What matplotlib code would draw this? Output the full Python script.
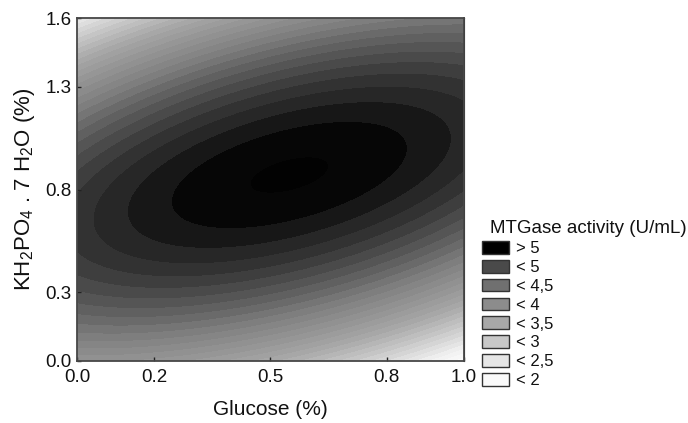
import numpy as np
import matplotlib
matplotlib.use('Agg')
import matplotlib.pyplot as plt
from matplotlib.colors import Normalize, LinearSegmentedColormap
from matplotlib.patches import Patch

plt.rcParams['font.family'] = ['Liberation Sans', 'DejaVu Sans']

# MTGase activity (U/mL) at a 3x3 grid of design points
glucose = [0.0, 0.5, 1.0]
kh2po4 = [0.0, 0.8, 1.6]
activity = [
    [3.47, 2.99, 1.53],   # KH2PO4 = 0.0
    [4.63, 5.14, 4.66],   # KH2PO4 = 0.8
    [1.96, 3.45, 3.95],   # KH2PO4 = 1.6
]

xtick_pos = [0.0, 0.2, 0.5, 0.8, 1.0]
xtick_lab = ['0.0', '0.2', '0.5', '0.8', '1.0']
ytick_pos = [0.0, 0.32, 0.8, 1.28, 1.6]
ytick_lab = ['0.0', '0.3', '0.8', '1.3', '1.6']

legend_labels = ['> 5', '< 5', '< 4,5', '< 4', '< 3,5', '< 3', '< 2,5', '< 2']
legend_colors = ['#000000', '#4a4a4a', '#707070', '#8c8c8c',
                 '#a8a8a8', '#c8c8c8', '#e6e6e6', '#fafafa']

# second order response surface through the points
gx, gy = np.meshgrid(glucose, kh2po4)
gx, gy, gz = gx.ravel(), gy.ravel(), np.array(activity).ravel()
A = np.column_stack([np.ones_like(gx), gx, gy, gx**2, gy**2, gx * gy])
coef = np.linalg.lstsq(A, gz, rcond=None)[0]

xs = np.linspace(0, 1, 400)
ys = np.linspace(0, 1.6, 400)
X, Y = np.meshgrid(xs, ys)
Z = (coef[0] + coef[1] * X + coef[2] * Y + coef[3] * X**2
     + coef[4] * Y**2 + coef[5] * X * Y)

# statistica-like grey ramp: steep near the optimum, flatter towards the edges
vmin, vmax = 1.55, 5.15
ramp_val = [1.55, 1.91, 2.51, 3.06, 3.52, 3.90, 4.12, 4.36, 4.60, 4.72, 4.84, 4.96, 5.08, 5.15]
ramp_grey = [252, 240, 200, 165, 145, 125, 106, 85, 62, 51, 39, 24, 6, 2]
ramp = LinearSegmentedColormap.from_list(
    'ramp', [((v - vmin) / (vmax - vmin), str(g / 255)) for v, g in zip(ramp_val, ramp_grey)])

levels = sorted(5.135 - 0.12 * np.arange(40))
levels = [l for l in levels if l > 0.5] + [Z.max() + 0.001]

fig = plt.figure(figsize=(6.88, 4.23), dpi=100)
ax = fig.add_axes([0.1119, 0.1466, 0.5625, 0.8108])
ax.contourf(X, Y, Z, levels=levels, cmap=ramp,
            norm=Normalize(vmin=vmin, vmax=vmax))

ax.set_xlim(0, 1)
ax.set_ylim(0, 1.6)
ax.set_xticks(xtick_pos)
ax.set_xticklabels(xtick_lab)
ax.set_yticks(ytick_pos)
ax.set_yticklabels(ytick_lab)
ax.tick_params(direction='in', length=3, width=1, colors='#222222',
               labelsize=13.5, labelcolor='#111111')
ax.tick_params(axis='x', pad=6)
ax.tick_params(axis='y', pad=4)
for s in ax.spines.values():
    s.set_color('#474747')
    s.set_linewidth(1.3)

top = ax.secondary_xaxis('top')
top.set_xticks(np.linspace(0, 1, 9)[1:-1])
top.set_xticklabels([])
top.tick_params(direction='in', length=3, width=1, colors='#222222')
right = ax.secondary_yaxis('right')
right.set_yticks(np.linspace(0, 1.6, 9)[1:-1])
right.set_yticklabels([])
right.tick_params(direction='in', length=3, width=1, colors='#222222')

ax.set_xlabel('Glucose (%)', fontsize=15, labelpad=10, color='#111111')
ax.set_ylabel(r'KH$_\mathregular{2}$PO$_\mathregular{4}$ . 7 H$_\mathregular{2}$O (%)',
              fontsize=16, labelpad=6, color='#111111')

fig.text(490 / 688, 1 - 228 / 423, 'MTGase activity (U/mL)', fontsize=13.5,
         va='center', ha='left', color='#111111')
handles = [Patch(facecolor=c, edgecolor='#333333', linewidth=1) for c in legend_colors]
fig.legend(handles, legend_labels, loc='upper left',
           bbox_to_anchor=(482 / 688, 1 - 241 / 423), frameon=False,
           fontsize=12, handlelength=1.6, handleheight=0.8, borderpad=0,
           labelspacing=0.22, handletextpad=0.45, borderaxespad=0,
           labelcolor='#111111')

fig.savefig('out.png', dpi=100)
